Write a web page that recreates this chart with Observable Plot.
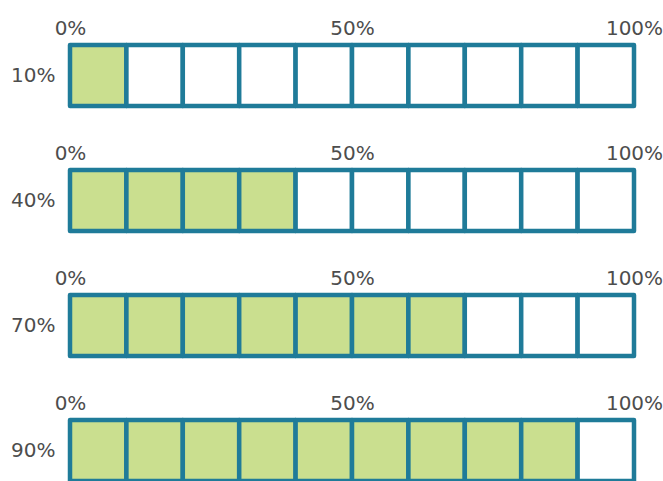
<!DOCTYPE html>
<html>
<head>
<meta charset="utf-8">
<script src="https://cdn.jsdelivr.net/npm/d3@7"></script>
<script src="https://cdn.jsdelivr.net/npm/@observablehq/plot@0.6"></script>
<style>
  html, body { margin: 0; padding: 0; background: #fff; overflow: hidden; }
  #chart svg { display: block; }
</style>
</head>
<body>
<div id="chart"></div>
<script>
// Data
const rowLabels = ["10%", "40%", "70%", "90%"];
const rowValues = [10, 40, 70, 90];
const cellCount = 10;
const tickValues = [0, 50, 100];
const tickLabels = ["0%", "50%", "100%"];

const fillOn = "#cadf8f";
const fillOff = "#ffffff";
const strokeColor = "#1f7b99";
const textColor = "#4d4d4d";

const container = document.getElementById("chart");

rowLabels.forEach((label, r) => {
  const value = rowValues[r];
  const step = 100 / cellCount;
  const cells = d3.range(cellCount).map(i => ({
    x1: i * step,
    x2: (i + 1) * step,
    row: label,
    filled: i * step < value
  }));
  const chart = Plot.plot({
    width: 663,
    height: 125,
    marginTop: 45,
    marginBottom: 19,
    marginLeft: 70,
    marginRight: 29,
    style: { fontFamily: "DejaVu Sans", fontSize: "20px", color: textColor, background: "#fff" },
    x: { domain: [0, 100] },
    y: { domain: [label], padding: 0 },
    marks: [
      Plot.rect(cells, {
        x1: "x1", x2: "x2", y: "row",
        fill: d => d.filled ? fillOn : fillOff,
        stroke: strokeColor,
        strokeWidth: 4.5,
        strokeLinejoin: "round"
      }),
      Plot.axisX({
        anchor: "top",
        ticks: tickValues,
        tickSize: 0,
        tickPadding: 11,
        tickFormat: d => tickLabels[tickValues.indexOf(d)],
        fill: textColor,
        label: null
      }),
      Plot.axisY({
        anchor: "left",
        tickSize: 0,
        tickPadding: 15,
        fill: textColor,
        label: null
      })
    ]
  });
  container.appendChild(chart);
});
</script>
</body>
</html>
